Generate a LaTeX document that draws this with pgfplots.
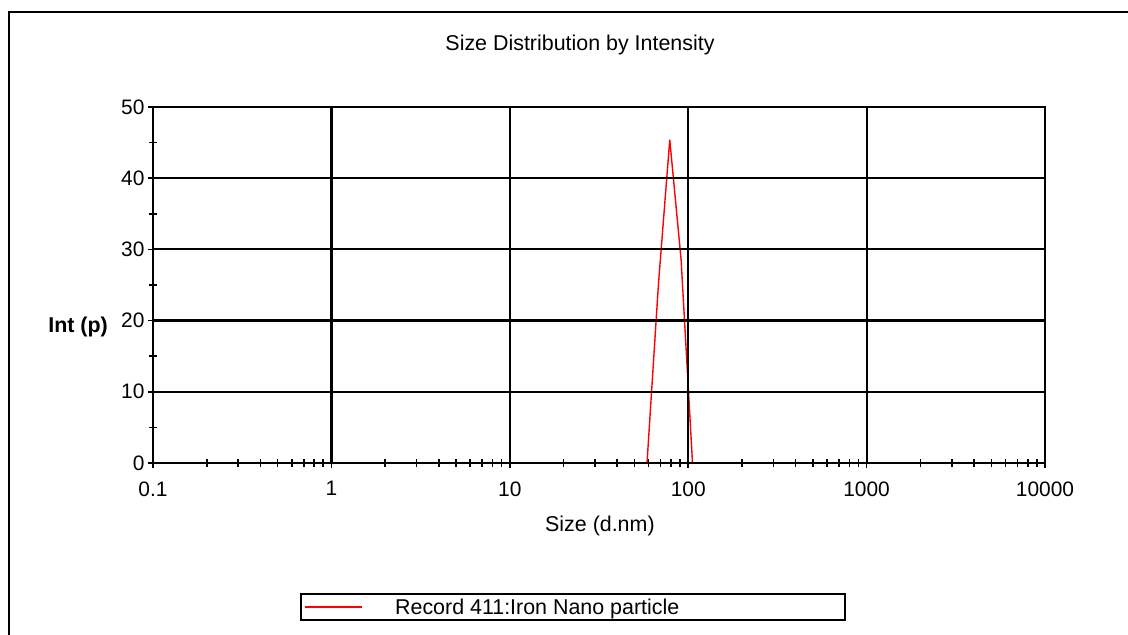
\documentclass[border=0pt]{standalone}
\usepackage{pgfplots}
\pgfplotsset{compat=1.18}
\usepackage{fontspec}
\setmainfont{Liberation Sans}
\begin{document}
\begin{tikzpicture}[x=1bp,y=1bp]
\useasboundingbox (0,0) rectangle (1128,635);
\draw[line width=2bp] (1200,622.5) -- (9,622.5) -- (9,-20);
\begin{axis}[
  at={(153bp,172bp)}, anchor=south west,
  scale only axis, width=892bp, height=356bp,
  xmode=log, xmin=0.1, xmax=10000, ymin=0, ymax=50,
  xtick={0.1,1,10,100,1000,10000},
  xticklabels={0.1,1,10,100,1000,10000},
  ytick={0,10,20,30,40,50},
  yticklabels={0,10,20,30,40,50},
  minor y tick num=1,
  tick pos=left,
  tick align=center,
  major tick length=10bp,
  minor tick length=8bp,
  every tick/.style={black, line width=1.6bp},
  axis line style={black, line width=2.2bp},
  grid=major,
  major grid style={black, line width=2.2bp},
  axis on top,
  clip=false,
  tick label style={font=\fontsize{21}{25}\selectfont},
  xticklabel style={yshift=-10bp},
  /pgf/number format/assume math mode=true,
  title={Size Distribution by Intensity},
  title style={at={(axis description cs:0.4787,1.157)}, anchor=center, font=\fontsize{21.5}{26}\selectfont},
  xlabel={Size (d.nm)},
  xlabel style={at={(axis description cs:0.501,-0.177)}, anchor=center, font=\fontsize{21.5}{26}\selectfont},
  ylabel={\textbf{Int (p)}},
  ylabel style={at={(axis description cs:-0.084,0.382)}, anchor=center, rotate=-90, font=\fontsize{21.5}{26}\selectfont},
  legend style={at={(axis description cs:0.471,-0.405)}, anchor=center, draw=black, line width=2bp,
     font=\fontsize{21.5}{26}\selectfont, inner xsep=3bp, inner ysep=2.5bp, column sep=0bp},
  legend image code/.code={\draw[#1, line width=2bp] (0bp,0bp) -- (57bp,0bp);},
  legend cell align=left,
]
\addplot[red, line width=1.4bp] coordinates {
 (0.4,0) (58.77,0) (68.06,25.0) (78.82,45.4) (91.28,28.5) (105.7,0) (10000,0)
};
\addlegendentry{\hspace*{30bp}\makebox[445bp][l]{Record 411:Iron Nano particle}}
\end{axis}
\end{tikzpicture}
\end{document}
